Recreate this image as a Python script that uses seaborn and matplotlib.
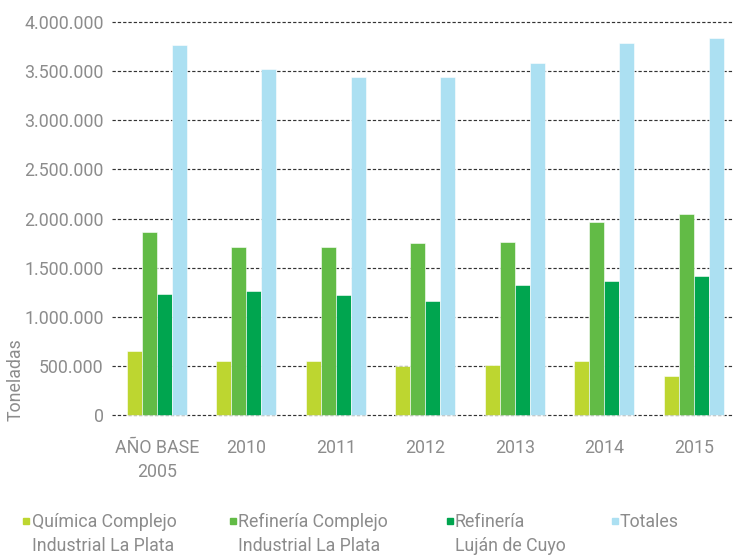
import matplotlib
matplotlib.use("Agg")
import matplotlib.pyplot as plt
import matplotlib.patches as mpatches
from matplotlib.ticker import FuncFormatter
import seaborn as sns
import pandas as pd

# ---- data ----
categories = ["AÑO BASE\n2005", "2010", "2011", "2012", "2013", "2014", "2015"]
series_names = ["Química Complejo\nIndustrial La Plata",
                "Refinería Complejo\nIndustrial La Plata",
                "Refinería\nLuján de Cuyo",
                "Totales"]
quimica_cilp = [656000, 551000, 548000, 500000, 510000, 548000, 395000]
refineria_cilp = [1867000, 1714000, 1711000, 1755000, 1765000, 1969000, 2041000]
refineria_ldc = [1228000, 1259000, 1218000, 1156000, 1320000, 1361000, 1412000]
totales = [3769000, 3520000, 3439000, 3439000, 3582000, 3786000, 3833000]
y_ticks = [0, 500000, 1000000, 1500000, 2000000, 2500000, 3000000, 3500000, 4000000]
y_label = "Toneladas"

colors = ["#BDD630", "#62BB46", "#00A54F", "#ACE0F2"]
text_color = "#8c8c8c"

rows = []
for name, vals in zip(series_names, [quimica_cilp, refineria_cilp, refineria_ldc, totales]):
    for c, v in zip(categories, vals):
        rows.append({"cat": c, "serie": name, "valor": v})
df = pd.DataFrame(rows)

sns.set_style("white")
plt.rcParams["font.family"] = ["Roboto", "DejaVu Sans"]

W, H = 734, 556
fig = plt.figure(figsize=(W / 100, H / 100), dpi=100)
ax_left, ax_right = 112, 734
ylo, yhi = -30000, 4100000
px_per_unit = 393 / 4000000
y0_px = 415
bottom_px = y0_px + (0 - ylo) * px_per_unit
top_px = y0_px - yhi * px_per_unit
ax = fig.add_axes([ax_left / W, 1 - bottom_px / H, (ax_right - ax_left) / W, (bottom_px - top_px) / H])

sns.barplot(data=df, x="cat", y="valor", hue="serie", hue_order=series_names,
            order=categories, palette=colors, width=0.67, gap=0, dodge=True,
            saturation=1, legend=False, ax=ax, zorder=3,
            edgecolor="white", linewidth=0.4)

ax.set_ylim(ylo, yhi)
ax.set_xlim(-0.5, 6.45)
ax.set_yticks(y_ticks)
ax.yaxis.set_major_formatter(FuncFormatter(lambda v, p: f"{v:,.0f}".replace(",", ".")))
ax.grid(axis="y", color="#333333", linestyle=(0, (2.8, 1.7)), linewidth=0.85, zorder=0)
ax.grid(axis="x", visible=False)
ax.set_axisbelow(True)
for s in ax.spines.values():
    s.set_visible(False)
ax.tick_params(axis="both", length=0, labelsize=12.8, colors=text_color)
ax.tick_params(axis="y", pad=6)
ax.tick_params(axis="x", pad=15)
for lab in ax.get_xticklabels():
    lab.set_linespacing(1.45)
ax.set_xlabel("")
ax.set_ylabel("")

fig.text(16 / W, 1 - 380 / H, y_label, rotation=90, ha="center", va="center",
         fontsize=12.8, color=text_color)

# legend
leg_sq_x = [23, 230, 447, 612]
leg_txt_x = [32, 238, 455, 620]
for sx, tx, name, col in zip(leg_sq_x, leg_txt_x, series_names, colors):
    fig.patches.append(mpatches.Rectangle((sx / W, 1 - 524 / H), 6 / W, 6 / H,
                                          transform=fig.transFigure, color=col))
    fig.text(tx / W, 1 - 513 / H, name, ha="left", va="top", fontsize=12.8,
             color=text_color, linespacing=1.4)

fig.savefig("out.png", dpi=100)
